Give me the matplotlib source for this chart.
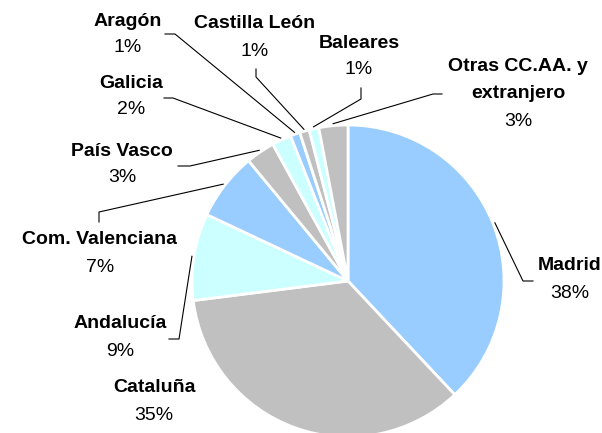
import matplotlib
matplotlib.use("Agg")
import matplotlib.pyplot as plt
import numpy as np

plt.rcParams["font.family"] = ["Liberation Sans", "DejaVu Sans"]

regions = ["Madrid", "Cataluña", "Andalucía", "Com. Valenciana", "País Vasco",
           "Galicia", "Aragón", "Castilla León", "Baleares", "Otras CC.AA. y\nextranjero"]
shares = [38, 35, 9, 7, 3, 2, 1, 1, 1, 3]
pct_labels = [f"{v}%" for v in shares]
colors = ["#99CCFF", "#C0C0C0", "#CCFFFF", "#99CCFF", "#C0C0C0",
          "#CCFFFF", "#99CCFF", "#C0C0C0", "#CCFFFF", "#C0C0C0"]

# layout in pixels (y downward): name centre, percent centre
W, H = 602, 433
cx, cy, r = 348, 281, 156
name_pos = [(570, 266), (154, 388), (120, 324), (100, 240), (122, 152),
            (131, 83), (128, 22), (255, 23), (359, 43), (518, 80)]
pct_y = [293, 416, 351, 267, 178, 110, 48, 52, 70, 122]
# leader line elbows, from the wedge towards the label
elbows = [[(523, 281), (533, 281)], None, [(179, 339), (169, 339)],
          [(99, 212), (99, 222)], [(190, 166), (178, 166)],
          [(173, 98), (164, 98)], [(175, 34), (165, 34)],
          [(256, 77), (256, 69)], [(361, 99), (361, 88)],
          [(433, 94), (442, 94)]]

fig = plt.figure(figsize=(W / 100, H / 100), dpi=100)
ax = fig.add_axes([0, 0, 1, 1])
ax.pie(shares, colors=colors, center=(cx, cy), radius=r, startangle=-90,
       counterclock=True, wedgeprops=dict(edgecolor="white", linewidth=2))
ax.set_xlim(0, W)
ax.set_ylim(H, 0)
ax.set_aspect("equal")
ax.axis("off")

total = sum(shares)
cum = np.cumsum([0] + shares)
for i, name in enumerate(regions):
    nx, ny = name_pos[i]
    ax.text(nx, ny, name, ha="center", va="center", fontsize=14,
            fontweight="bold", linespacing=1.7)
    ax.text(nx, pct_y[i], pct_labels[i], ha="center", va="center", fontsize=14)
    if elbows[i] is None:
        continue
    theta = np.deg2rad((cum[i] + shares[i] / 2) / total * 360)
    sx = cx + (r + 2) * np.sin(theta)
    sy = cy - (r + 2) * np.cos(theta)
    xs = [sx] + [p[0] for p in elbows[i]]
    ys = [sy] + [p[1] for p in elbows[i]]
    ax.plot(xs, ys, color="black", lw=0.8)

fig.savefig("out.png", dpi=100)
